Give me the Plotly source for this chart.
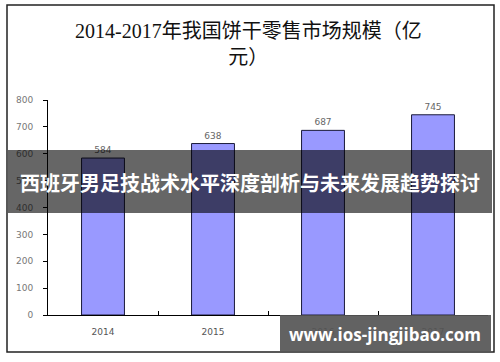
import plotly.graph_objects as go

years = ["2014", "2015", "2016", "2017"]
values = [584, 638, 687, 745]
y_ticks = [0, 100, 200, 300, 400, 500, 600, 700, 800]

title_text = "2014-2017年我国饼干零售市场规模（亿<br>元）"
banner_text = "西班牙男足技战术水平深度剖析与未来发展趋势探讨"
watermark_text = "www.ios-jingjibao.com"

W, H = 500, 362
L, R, T, B = 48, 12, 100, 47
pw, ph = W - L - R, H - T - B

def px(x):
    return (x - L) / pw

def py(y):
    return (H - B - y) / ph

fig = go.Figure()
fig.add_trace(go.Bar(
    x=years, y=values,
    marker=dict(color="#9999FF", line=dict(color="#1a1a3a", width=1)),
    width=0.39,
    text=[str(v) for v in values], textposition="outside",
    textfont=dict(family="DejaVu Sans", size=9, color="#666666"),
    cliponaxis=False,
))

fig.update_layout(
    width=W, height=H,
    margin=dict(l=L, r=R, t=T, b=B),
    paper_bgcolor="white", plot_bgcolor="white",
    showlegend=False,
    xaxis=dict(
        showline=True, linecolor="black", linewidth=1,
        ticks="inside", tickson="boundaries", ticklen=4, tickcolor="black",
        tickfont=dict(family="DejaVu Sans", size=9, color="#555555"),
        ticklabelstandoff=8,
        showgrid=False,
    ),
    yaxis=dict(
        range=[0, 800], tickvals=y_ticks,
        showline=True, linecolor="black", linewidth=1,
        ticks="outside", ticklen=4, tickcolor="black",
        tickfont=dict(family="DejaVu Sans", size=9, color="#777777"),
        ticklabelstandoff=8,
        showgrid=False, zeroline=False,
    ),
)

shapes = [
    dict(type="rect", xref="paper", yref="paper",
         x0=px(7), x1=px(494), y0=py(5), y1=py(352),
         line=dict(color="#222222", width=1.5), fillcolor="rgba(0,0,0,0)", layer="below"),
    dict(type="rect", xref="paper", yref="paper",
         x0=px(8), x1=px(492), y0=py(150), y1=py(213),
         line=dict(width=0), fillcolor="rgba(0,0,0,0.6)", layer="above"),
    dict(type="rect", xref="paper", yref="paper",
         x0=px(280), x1=px(491), y0=py(315), y1=py(352),
         line=dict(width=0), fillcolor="rgba(85,85,85,0.92)", layer="above"),
]
fig.update_layout(shapes=shapes)

fig.add_annotation(
    text=title_text, xref="paper", yref="paper", x=px(248), y=py(44),
    showarrow=False, xanchor="center", yanchor="middle",
    font=dict(family="Liberation Serif, Noto Sans CJK SC", size=20, color="#111111"),
)
fig.add_annotation(
    text="<b>" + banner_text + "</b>", xref="paper", yref="paper", x=px(250), y=py(182),
    showarrow=False, xanchor="center", yanchor="middle",
    font=dict(family="Noto Sans CJK SC", size=20, color="white"),
)
fig.add_annotation(
    text="<b>" + watermark_text + "</b>", xref="paper", yref="paper", x=px(385), y=py(334),
    showarrow=False, xanchor="center", yanchor="middle",
    font=dict(family="Open Sans", size=17, color="white"),
)

fig.write_html("out.html", config={"displayModeBar": False},
               post_script="document.body.style.margin='0';")
